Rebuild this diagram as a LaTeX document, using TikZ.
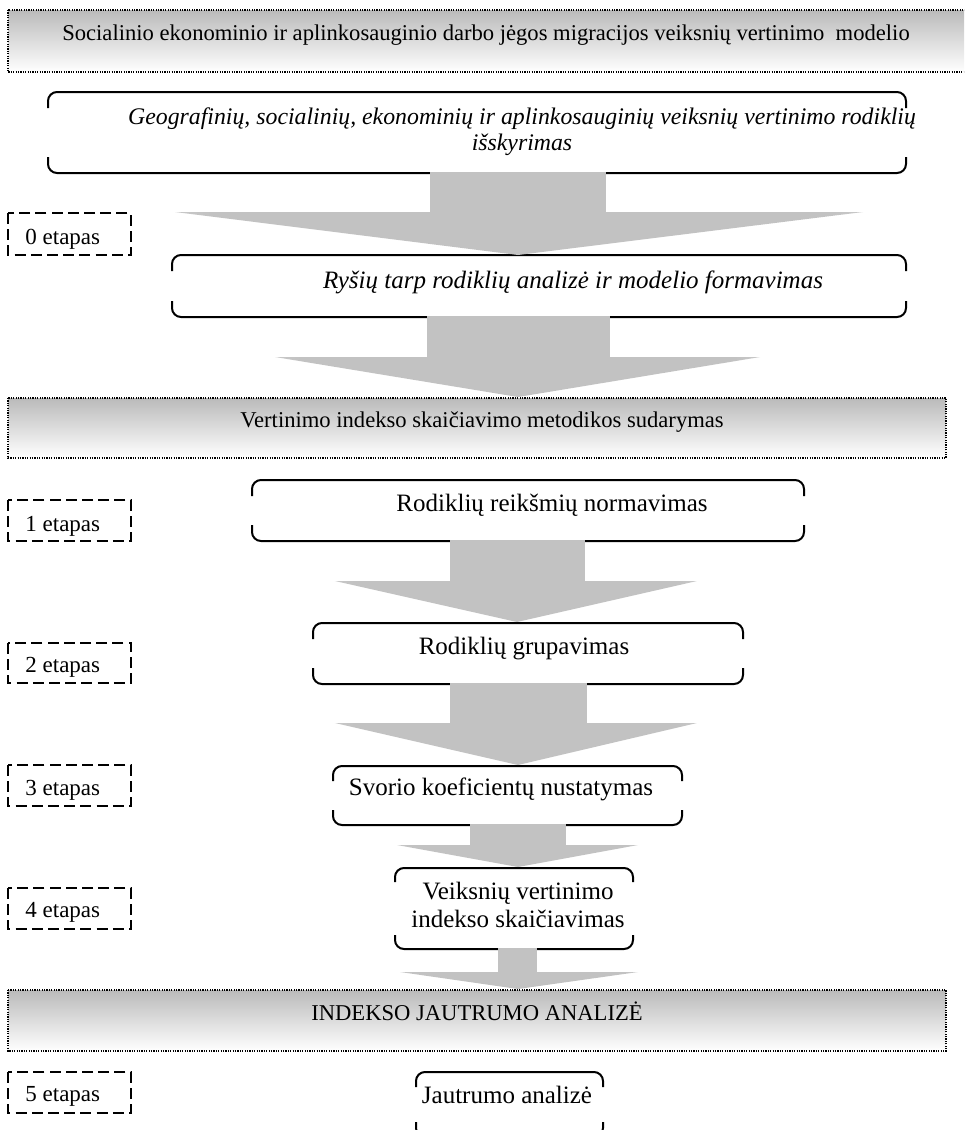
\documentclass[tikz,border=0pt]{standalone}
\usepackage{fontspec}
\setmainfont{Liberation Serif}
\usetikzlibrary{fadings}
\begin{tikzfadingfrompicture}[name=hfade]
  \shade[left color=transparent!100, right color=transparent!0] (-50bp,-50bp) rectangle (-22bp,50bp);
  \fill[transparent!0] (-22.2bp,-50bp) rectangle (22.2bp,50bp);
  \shade[left color=transparent!0, right color=transparent!100] (22bp,-50bp) rectangle (50bp,50bp);
\end{tikzfadingfrompicture}
\begin{document}
\begin{tikzpicture}[x=0.5pt,y=-0.5pt,
  banner/.style={draw=black, line width=0.75pt, dash pattern=on 0.6pt off 0.6pt, top color=black!27, bottom color=white},
  bracket/.style={draw=black, line width=1pt, rounded corners=4.5pt},
  stagebox/.style={draw=black, line width=1pt, dash pattern=on 5.5pt off 2.6pt},
  arrowfill/.style={fill=black!24},
  bantext/.style={font=\fontsize{11.3pt}{13pt}\selectfont, anchor=base, inner sep=0pt},
  stagetext/.style={font=\fontsize{11.5pt}{13pt}\selectfont, anchor=base west, inner sep=0pt},
  boxtext/.style={font=\fontsize{12.5pt}{14pt}\selectfont, anchor=base, inner sep=0pt, align=center},
  ittext/.style={font=\fontsize{11.9pt}{13pt}\itshape\selectfont, anchor=base, inner sep=0pt, align=center}
]
\useasboundingbox (0,0) rectangle (964,1130);
\clip (0,0) rectangle (964,1130);
\fill[white] (0,0) rectangle (964,1130);

% ---------- banners ----------
\path[banner] (8,10) rectangle (972,72);
\node[bantext] (t0) at (486,40) {Socialinio ekonominio ir aplinkosauginio darbo jėgos migracijos veiksnių vertinimo\ \ modelio};

\path[banner] (8,398) rectangle (946,458);
\node[bantext] (t1) at (482,427) {Vertinimo indekso skaičiavimo metodikos sudarymas};

\path[banner] (8,990) rectangle (946,1051);
\node[bantext] (t2) at (477,1020) {INDEKSO JAUTRUMO ANALIZĖ};

% ---------- bracket boxes ----------
% box 1
\draw[bracket] (48,108) -- (48,92) -- (906,92) -- (906,108);
\draw[bracket] (48,157) -- (48,173) -- (906,173) -- (906,157);
\node[ittext] (g1) at (522,150) {Geografinių, socialinių, ekonominių ir aplinkosauginių veiksnių vertinimo rodiklių\\[0pt]išskyrimas};
% box 2
\draw[bracket] (172,271) -- (172,255) -- (906,255) -- (906,271);
\draw[bracket] (172,301) -- (172,317) -- (906,317) -- (906,301);
\node[ittext, font=\fontsize{12.5pt}{14pt}\itshape\selectfont] (g2) at (573,288) {Ryšių tarp rodiklių analizė ir modelio formavimas};
% box 3
\draw[bracket] (252,496) -- (252,480) -- (804,480) -- (804,496);
\draw[bracket] (252,525) -- (252,541) -- (804,541) -- (804,525);
\node[boxtext] (g3) at (552,511) {Rodiklių reikšmių normavimas};
% box 4
\draw[bracket] (313,639) -- (313,623) -- (743,623) -- (743,639);
\draw[bracket] (313,668) -- (313,684) -- (743,684) -- (743,668);
\node[boxtext] (g4) at (524,654) {Rodiklių grupavimas};
% box 5
\draw[bracket] (333,781) -- (333,766) -- (682,766) -- (682,781);
\draw[bracket] (333,810) -- (333,825) -- (682,825) -- (682,810);
\node[boxtext] (g5) at (501,795) {Svorio koeficientų nustatymas};
% box 6
\draw[bracket] (395,882) -- (395,868) -- (633,868) -- (633,882);
\draw[bracket] (395,935) -- (395,949) -- (633,949) -- (633,935);
\node[boxtext] (g6) at (518,927) {Veiksnių vertinimo\\[0pt]indekso skaičiavimas};
% box 7
\draw[bracket] (416,1087) -- (416,1072) -- (603,1072) -- (603,1087);
\draw[bracket] (416,1122) -- (416,1137) -- (603,1137) -- (603,1122);
\node[boxtext] (g7) at (507,1103) {Jautrumo analizė};

% ---------- block arrows ----------
\fill[arrowfill] (430,172) rectangle (606,213);
\fill[arrowfill, path fading=hfade] (175,212) -- (863,212) -- (518,255) -- cycle;

\fill[arrowfill] (427,316) rectangle (610,358);
\fill[arrowfill, path fading=hfade] (275,357) -- (760,357) -- (518,397) -- cycle;

\fill[arrowfill] (450,540) rectangle (585,582);
\fill[arrowfill, path fading=hfade] (335,581) -- (697,581) -- (517,622) -- cycle;

\fill[arrowfill] (450,683) rectangle (587,724);
\fill[arrowfill, path fading=hfade] (335,723) -- (697,723) -- (518,765) -- cycle;

\fill[arrowfill] (470,824) rectangle (566,846);
\fill[arrowfill, path fading=hfade] (397,845) -- (638,845) -- (518,867) -- cycle;

\fill[arrowfill] (498,948) rectangle (537,973);
\fill[arrowfill, path fading=hfade] (400,972) -- (638,972) -- (518,989) -- cycle;

% ---------- stage boxes ----------
\draw[stagebox] (8,213) rectangle (131,255);
\node[stagetext] (s0) at (25,244) {0 etapas};
\draw[stagebox] (8,500) rectangle (131,541);
\node[stagetext] (s1) at (25,531) {1 etapas};
\draw[stagebox] (8,643) rectangle (131,683);
\node[stagetext] (s2) at (25,672) {2 etapas};
\draw[stagebox] (8,765) rectangle (131,806);
\node[stagetext] (s3) at (25,795) {3 etapas};
\draw[stagebox] (8,888) rectangle (131,929);
\node[stagetext] (s4) at (25,917) {4 etapas};
\draw[stagebox] (8,1072) rectangle (131,1113);
\node[stagetext] (s5) at (25,1101) {5 etapas};
\end{tikzpicture}
\end{document}
